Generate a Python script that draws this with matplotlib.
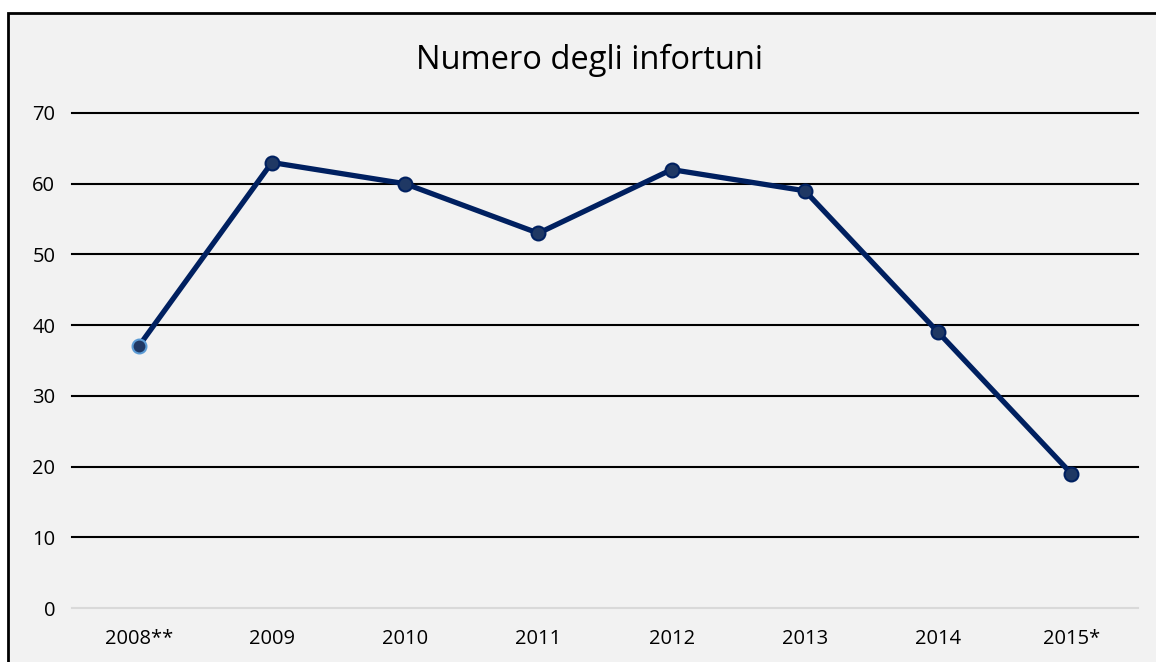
import numpy as np
import matplotlib.pyplot as plt
from matplotlib.patches import Rectangle

# %% Data
anni = ['2008**', '2009', '2010', '2011', '2012', '2013', '2014', '2015*']
infortuni = [37, 63, 60, 53, 62, 59, 39, 19]
y_ticks = [0, 10, 20, 30, 40, 50, 60, 70]

# %% Style
plt.rcParams['font.family'] = ['Open Sans', 'DejaVu Sans']
W, H = 1156, 662
navy = '#002060'
marker_fill = '#1f3864'

fig = plt.figure(figsize=(W / 100, H / 100), dpi=100)
fig.patch.set_facecolor('white')

# outer chart box (runs off right and bottom edges)
fig.patches.append(Rectangle((8 / W, -20 / H), (W + 20) / W, (H + 7) / H,
                             transform=fig.transFigure, facecolor='#f2f2f2',
                             edgecolor='black', linewidth=2, zorder=-5))

ax = fig.add_axes([72 / W, 1 - 608 / H, (1138 - 72) / W, (608 - 113) / H])
ax.set_facecolor('none')
x = np.arange(len(anni))

# gridlines
for v in y_ticks[1:]:
    ax.axhline(v, color='black', linewidth=1.5, zorder=1, clip_on=False)
ax.axhline(0, color='#d9d9d9', linewidth=1.5, zorder=1, clip_on=False)

ax.plot(x, infortuni, color=navy, linewidth=3.8, zorder=3, solid_capstyle='round')
ax.plot(x[1:], infortuni[1:], 'o', markersize=10, markerfacecolor=marker_fill,
        markeredgecolor=navy, markeredgewidth=1.5, zorder=4)
ax.plot(x[:1], infortuni[:1], 'o', markersize=10, markerfacecolor=marker_fill,
        markeredgecolor='#5b9bd5', markeredgewidth=1.5, zorder=4)

ax.set_xlim(-0.5, len(anni) - 0.5)
ax.set_ylim(0, 70)
ax.set_xticks(x)
ax.set_xticklabels(anni)
ax.set_yticks(y_ticks)
ax.tick_params(length=0, labelsize=14.5, colors='black', pad=15)
ax.tick_params(axis='y', pad=12)
for s in ax.spines.values():
    s.set_visible(False)

fig.text(589 / W, 1 - 60 / H, 'Numero degli infortuni', ha='center', va='center',
         fontsize=23.5, color='black')

fig.savefig('out.png', dpi=100)
